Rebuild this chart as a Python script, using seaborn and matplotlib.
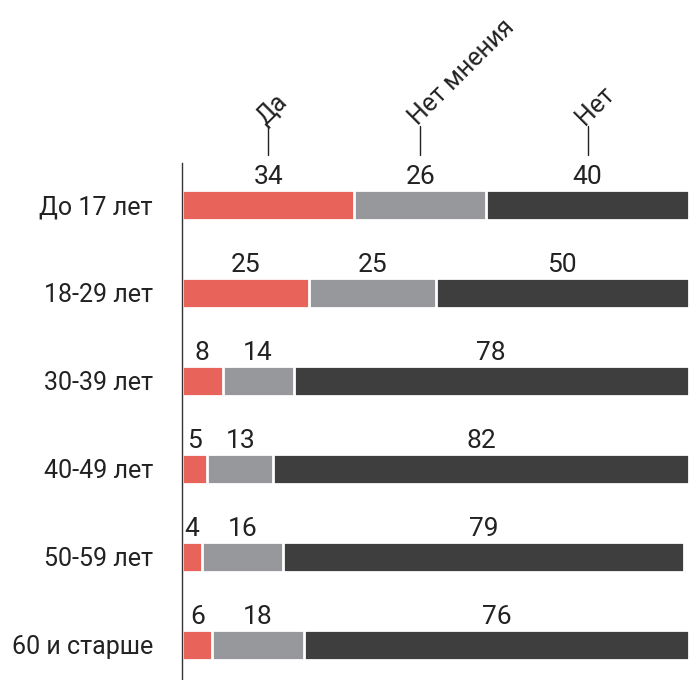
import matplotlib
matplotlib.use("Agg")
import matplotlib.pyplot as plt
import matplotlib.transforms as mtransforms
import numpy as np
import pandas as pd
import seaborn as sns

# Data
ages = ["До 17 лет", "18-29 лет", "30-39 лет", "40-49 лет", "50-59 лет", "60 и старше"]
answers = ["Да", "Нет мнения", "Нет"]
yes = [34, 25, 8, 5, 4, 6]
no_opinion = [26, 25, 14, 13, 16, 18]
no = [40, 50, 78, 82, 79, 76]

colors = {"Да": "#e8645a", "Нет мнения": "#97989c", "Нет": "#3e3e3f"}

df = pd.DataFrame({"age": ages, "Да": yes, "Нет мнения": no_opinion, "Нет": no})
df["c1"] = df["Да"]
df["c2"] = df["Да"] + df["Нет мнения"]
df["c3"] = df["c2"] + df["Нет"]

sns.set_style("white")
plt.rcParams["font.family"] = ["Roboto", "DejaVu Sans"]

fig = plt.figure(figsize=(6.89, 6.80), dpi=100)
ax = fig.add_axes([182 / 689, 0, 507 / 689, 517 / 680])

bar_w = 0.34
# Stacked bars drawn as overlapping cumulative bars
for col, name in [("c3", "Нет"), ("c2", "Нет мнения"), ("c1", "Да")]:
    sns.barplot(data=df, x=col, y="age", order=ages, color=colors[name],
                width=bar_w, edgecolor="white", linewidth=2, saturation=1,
                ax=ax)

ax.set_xlim(0, 100)
ax.set_ylim(5.398, -0.477)
ax.set_xlabel("")
ax.set_ylabel("")
ax.set_xticks([])
ax.tick_params(axis="y", length=0, pad=21, labelsize=18, labelcolor="#222222")
for s in ["top", "right", "bottom"]:
    ax.spines[s].set_visible(False)
ax.spines["left"].set_color("#333333")
ax.spines["left"].set_linewidth(1)
ax.spines["left"].set_zorder(5)

# Value labels above each segment
for i in range(len(ages)):
    starts = [0, df["c1"][i], df["c2"][i]]
    vals = [yes[i], no_opinion[i], no[i]]
    for st, v in zip(starts, vals):
        ax.text(st + v / 2, i - bar_w / 2 - 0.07, str(v), ha="center",
                va="baseline", fontsize=19, color="#222222")

# Legend: rotated labels with tick lines over first row segments
trans = mtransforms.blended_transform_factory(ax.transData, ax.transAxes)
mids = [yes[0] / 2, yes[0] + no_opinion[0] / 2, df["c2"][0] + no[0] / 2]
for m, name in zip(mids, answers):
    ax.plot([m, m], [(680 - 155) / 517, (680 - 126) / 517], color="#222222",
            lw=1, transform=trans, clip_on=False)
    ax.text(m - 1.5, (680 - 121) / 517, name, rotation=45, rotation_mode="anchor",
            ha="left", va="center", fontsize=18, color="#222222",
            transform=trans, clip_on=False)

fig.savefig("out.png", dpi=100)
